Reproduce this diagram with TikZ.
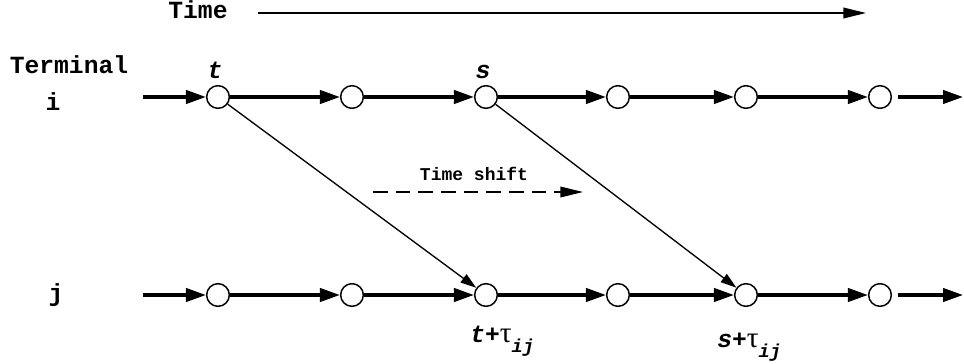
\documentclass[tikz,border=0pt]{standalone}
\usepackage{fontspec}
\setmainfont{Liberation Mono}
\newfontfamily\greekfont{Liberation Serif}
\usetikzlibrary{arrows.meta}
\tikzset{
  event/.style={
    circle,
    draw=black,
    fill=white,
    line width=1.1pt,
    minimum size=17pt,
    inner sep=0pt
  },
  flow/.style={
    -{Triangle[length=15pt,width=10pt]},
    line width=2.4pt
  },
  link/.style={
    -{Triangle[length=12pt,width=7.5pt]},
    line width=1pt
  },
  label/.style={
    font=\fontsize{18.5}{21}\selectfont\bfseries,
    inner sep=0pt,
    anchor=base
  }
}

\begin{document}
\begin{tikzpicture}[x=0.75pt,y=-0.75pt]
\useasboundingbox (0,0) rectangle (964,364);
% time axis
\node[label] (time) at (198,18) {Time};
\coordinate (tstart) at (258,13);
\coordinate (tend) at (866,13);
\draw[-{Triangle[length=17pt,width=8pt]},line width=1.2pt] (tstart) -- (tend);
% terminals
\node[label] (terminal) at (69,73) {Terminal};
\node[label] (termi) at (53,110) {i};
\node[label] (termj) at (56,301) {j};
% events of terminal i
\node[event] (i1) at (218,97) {};
\node[event] (i2) at (352,97) {};
\node[event] (i3) at (486,97) {};
\node[event] (i4) at (618,97) {};
\node[event] (i5) at (746,97) {};
\node[event] (i6) at (880,97) {};
% events of terminal j
\node[event] (j1) at (218,295) {};
\node[event] (j2) at (352,295) {};
\node[event] (j3) at (486,295) {};
\node[event] (j4) at (618,295) {};
\node[event] (j5) at (746,295) {};
\node[event] (j6) at (880,295) {};
\coordinate (iin) at (143,97);
\coordinate (iout) at (963,97);
\coordinate (jin) at (143,295);
\coordinate (jout) at (963,295);
\draw[flow] (iin) -- (i1);
\draw[flow] (i1) -- (i2);
\draw[flow] (i2) -- (i3);
\draw[flow] (i3) -- (i4);
\draw[flow] (i4) -- (i5);
\draw[flow] (i5) -- (i6);
\draw[flow, shorten <=4.5pt] (i6) -- (iout);
\draw[flow] (jin) -- (j1);
\draw[flow] (j1) -- (j2);
\draw[flow] (j2) -- (j3);
\draw[flow] (j3) -- (j4);
\draw[flow] (j4) -- (j5);
\draw[flow] (j5) -- (j6);
\draw[flow, shorten <=4.5pt] (j6) -- (jout);
% shifted copies
\draw[link] (i1) -- (j3);
\draw[link] (i3) -- (j5);
\node[label, font=\fontsize{13.5}{15}\selectfont\bfseries] (shift) at (474,180) {Time shift};
\coordinate (sstart) at (373,192);
\coordinate (send) at (583,192);
\draw[-{Triangle[length=17pt,width=8pt]}, line width=1pt, dash pattern=on 11pt off 6pt] (sstart) -- (send);
% event labels
\node[label, font=\fontsize{18.5}{21}\selectfont\bfseries\itshape] (lt) at (215,78) {t};
\node[label, font=\fontsize{18.5}{21}\selectfont\bfseries\itshape] (ls) at (483,78) {s};
\node[label, anchor=base west, font=\fontsize{18.5}{21}\selectfont\bfseries\itshape] (ltau) at (470,342)
  {t+{\greekfont\upshape\mdseries\fontsize{22}{24}\selectfont τ}\raisebox{-8pt}{\fontsize{14}{15}\selectfont ij}};
\node[label, anchor=base west, font=\fontsize{18.5}{21}\selectfont\bfseries\itshape] (lstau) at (717,347)
  {s+{\greekfont\upshape\mdseries\fontsize{22}{24}\selectfont τ}\raisebox{-8pt}{\fontsize{14}{15}\selectfont ij}};
\end{tikzpicture}
\end{document}
